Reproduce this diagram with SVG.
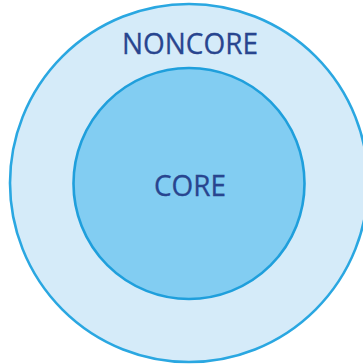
<svg xmlns="http://www.w3.org/2000/svg" width="363" height="364" viewBox="0 0 363 364">
  <style>
    .ring { stroke-width: 2.6; }
    .label { font-family: "Open Sans", "Liberation Sans", sans-serif; fill: #28458f; text-anchor: middle; stroke: #28458f; stroke-width: 0.3; }
  </style>
  <rect width="363" height="364" fill="#ffffff"/>
  <g id="noncore">
    <circle class="ring" cx="189" cy="183" r="179" fill="#d5ebf9" stroke="#2aa7e1"/>
    <text class="label" x="190" y="54" font-size="30" textLength="136" lengthAdjust="spacingAndGlyphs">NONCORE</text>
  </g>
  <g id="core">
    <circle class="ring" cx="189" cy="183.5" r="115.5" fill="#82cdf2" stroke="#1f9fdc"/>
    <text class="label" x="190" y="196" font-size="29" textLength="72" lengthAdjust="spacingAndGlyphs">CORE</text>
  </g>
</svg>
